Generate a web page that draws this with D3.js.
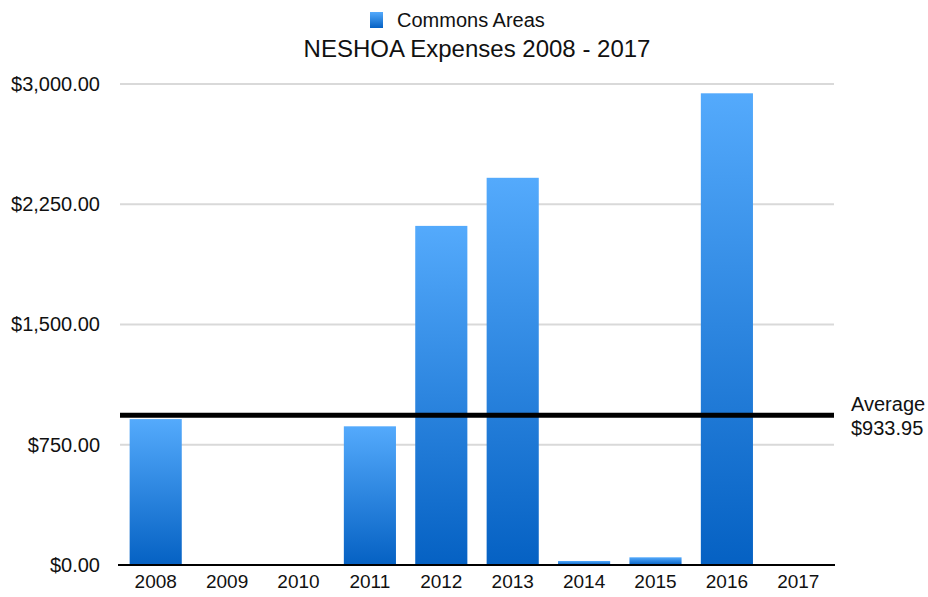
<!DOCTYPE html>
<html>
<head>
<meta charset="utf-8">
<script src="https://cdn.jsdelivr.net/npm/d3@7"></script>
<style>
  body { margin: 0; background: #fff; }
  text { font-family: "Liberation Sans", Arial, Helvetica, sans-serif; fill: #111; }
</style>
</head>
<body>
<div id="chart"></div>
<script>
// data
const years = ["2008","2009","2010","2011","2012","2013","2014","2015","2016","2017"];
const expenses = [910, 0, 0, 865, 2115, 2415, 25, 48, 2942, 0];
const yTicks = [0, 750, 1500, 2250, 3000];
const average = 933.95;

const W = 928, H = 597;
const margin = {top: 84, right: 94, bottom: 32, left: 120},
      width = W - margin.left - margin.right,
      height = H - margin.top - margin.bottom;

const svg = d3.select("#chart")
  .append("svg")
    .attr("width", W)
    .attr("height", H);

// bar gradient
const grad = svg.append("defs").append("linearGradient")
    .attr("id", "barGrad")
    .attr("gradientUnits", "objectBoundingBox")
    .attr("x1", 0).attr("y1", 0).attr("x2", 0).attr("y2", 1);
grad.append("stop").attr("offset", "0%").attr("stop-color", "#54aafc");
grad.append("stop").attr("offset", "100%").attr("stop-color", "#0561c3");

// legend
const legend = svg.append("g").attr("transform", "translate(370,12)");
legend.append("rect")
  .attr("width", 13).attr("height", 16)
  .attr("fill", "url(#barGrad)");
legend.append("text")
  .attr("x", 27).attr("y", 15)
  .attr("font-size", 20)
  .text("Commons Areas");

// title
svg.append("text")
  .attr("x", 477).attr("y", 57)
  .attr("text-anchor", "middle")
  .attr("font-size", 24)
  .text("NESHOA Expenses 2008 - 2017");

const g = svg.append("g")
  .attr("transform", `translate(${margin.left},${margin.top})`);

const x = d3.scaleBand()
  .domain(years)
  .range([0, width])
  .paddingInner(0.27)
  .paddingOuter(0.135);

const y = d3.scaleLinear()
  .domain([0, 3000])
  .range([height, 0]);

// gridlines
g.selectAll(".grid")
  .data(yTicks.filter(d => d > 0))
  .join("line")
    .attr("x1", 0).attr("x2", width)
    .attr("y1", d => y(d)).attr("y2", d => y(d))
    .attr("stroke", "#d9d9d9")
    .attr("stroke-width", 2);

// y axis labels
const fmt = d3.format("$,.2f");
g.append("g")
  .call(d3.axisLeft(y).tickValues(yTicks).tickFormat(fmt).tickSize(0).tickPadding(20))
  .call(a => a.select(".domain").remove())
  .call(a => a.selectAll("text")
    .attr("font-size", 20)
    .attr("font-family", "Liberation Sans, Arial, sans-serif")
    .attr("fill", "#111"));

// bars
g.selectAll(".bar")
  .data(years.map((yr, i) => ({yr, v: expenses[i]})).filter(d => d.v > 0))
  .join("rect")
    .attr("x", d => x(d.yr))
    .attr("y", d => y(d.v))
    .attr("width", x.bandwidth())
    .attr("height", d => height - y(d.v))
    .attr("fill", "url(#barGrad)");

// x axis
g.append("g")
  .attr("transform", `translate(0,${height})`)
  .call(d3.axisBottom(x).tickSize(0).tickPadding(10))
  .call(a => a.select(".domain")
    .attr("stroke", "#000")
    .attr("stroke-width", 2)
    .attr("d", `M-2,0H${width + 1}`))
  .call(a => a.selectAll("text")
    .attr("font-size", 19)
    .attr("font-family", "Liberation Sans, Arial, sans-serif")
    .attr("fill", "#111"));

// average line
g.append("line")
  .attr("x1", 0).attr("x2", width)
  .attr("y1", y(average)).attr("y2", y(average))
  .attr("stroke", "#000")
  .attr("stroke-width", 5);

const avgLabel = g.append("text")
  .attr("x", width + 17)
  .attr("y", y(average) - 4)
  .attr("font-size", 20);
avgLabel.append("tspan").text("Average");
avgLabel.append("tspan")
  .attr("x", width + 17).attr("dy", 24)
  .text(fmt(average));
</script>
</body>
</html>
